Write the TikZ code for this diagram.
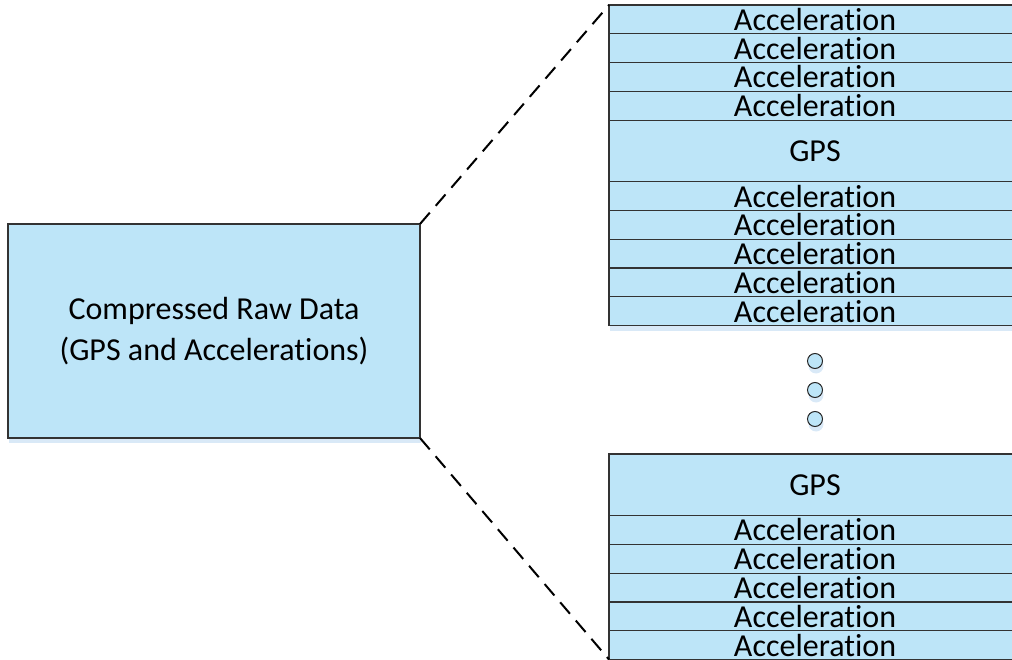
\documentclass[tikz,border=0pt]{standalone}
\usepackage{fontspec}
\setmainfont{Carlito}[Ligatures=NoCommon]
\usetikzlibrary{positioning,shadows}
\definecolor{rowfill}{HTML}{BDE5F8}
\definecolor{rowshade}{HTML}{D9E9F7}
\tikzset{
  cell/.style={draw=black!80, fill=rowfill, line width=1.2pt, outer sep=0pt,
    minimum width=412pt, inner sep=0pt, text height=24pt, text depth=2pt,
    font=\fontsize{32}{34}\selectfont},
  acc/.style={cell, minimum height=28.8pt},
  gps/.style={cell, minimum height=61.5pt},
  shade/.style={drop shadow={shadow xshift=1pt, shadow yshift=-5pt, fill=rowshade, opacity=1}},
  dotmark/.style={circle, draw=black!85, fill=rowfill, line width=1pt,
    minimum size=15pt, inner sep=0pt, shade},
  link/.style={line width=2pt, dash pattern=on 15pt off 9pt}
}
\begin{document}
\begin{tikzpicture}[x=1pt, y=-1pt]
    % Frame:
    \useasboundingbox (0,0) rectangle (1012,660);
    % Left block:
    \node[cell, shade, minimum width=412pt, minimum height=214pt, align=center,
      text height=, text depth=, font=\fontsize{32}{41}\selectfont] (raw) at (214,331)
      {Compressed Raw Data\\(GPS and Accelerations)};
    % Upper stack:
    \node[acc, shade, anchor=north] (a1) at (815,5) {Acceleration};
    \node[acc, below=0pt of a1] (a2) {Acceleration};
    \node[acc, below=0pt of a2] (a3) {Acceleration};
    \node[acc, below=0pt of a3] (a4) {Acceleration};
    \node[gps, below=0pt of a4] (g1) {GPS};
    \node[acc, shade, below=0pt of g1] (a5) {Acceleration};
    \node[acc, shade, below=0pt of a5] (a6) {Acceleration};
    \node[acc, shade, below=0pt of a6] (a7) {Acceleration};
    \node[acc, shade, below=0pt of a7] (a8) {Acceleration};
    \node[acc, shade, below=0pt of a8] (a9) {Acceleration};
    % Dots:
    \node[dotmark] (d1) at (815,361) {};
    \node[dotmark] (d2) at (815,390) {};
    \node[dotmark] (d3) at (815,419) {};
    % Lower stack:
    \node[gps, anchor=north] (g2) at (815,454) {GPS};
    \node[acc, below=0pt of g2] (b1) {Acceleration};
    \node[acc, below=0pt of b1] (b2) {Acceleration};
    \node[acc, below=0pt of b2] (b3) {Acceleration};
    \node[acc, below=0pt of b3] (b4) {Acceleration};
    \node[acc, below=0pt of b4] (b5) {Acceleration};
    % Zoom lines:
    \draw[link] (raw.north east) -- (a1.north west);
    \draw[link] (raw.south east) -- (b5.south west);
\end{tikzpicture}
\end{document}
